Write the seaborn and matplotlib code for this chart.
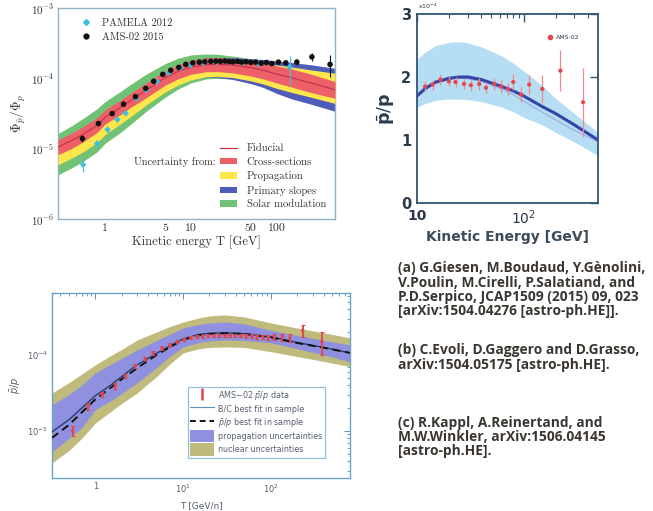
import numpy as np
import pandas as pd
import matplotlib
matplotlib.use("Agg")
import matplotlib.pyplot as plt
import seaborn as sns
from matplotlib.lines import Line2D
from matplotlib.patches import Patch
from matplotlib.ticker import FixedLocator, NullFormatter, NullLocator

# ---------------- Panel (a) data ----------------
TA = [0.28, 0.4, 0.55, 0.8, 1.0, 1.5, 2.0, 3.0, 5.0, 7.0, 10, 15, 20, 30, 50, 70, 100, 150, 250, 480]
fid = [1.05e-5, 1.3e-5, 1.6e-5, 2.15e-5, 2.8e-5, 3.85e-5, 4.9e-5, 6.8e-5, 1.02e-4, 1.25e-4, 1.45e-4,
       1.56e-4, 1.58e-4, 1.55e-4, 1.42e-4, 1.3e-4, 1.15e-4, 1.02e-4, 8.6e-5, 6.9e-5]
red_lo = [8.2e-6, 1.0e-5, 1.25e-5, 1.7e-5, 2.25e-5, 3.05e-5, 3.9e-5, 5.3e-5, 8.0e-5, 9.8e-5, 1.14e-4,
          1.24e-4, 1.25e-4, 1.2e-4, 1.08e-4, 9.8e-5, 8.6e-5, 7.5e-5, 6.3e-5, 5.2e-5]
red_hi = [1.34e-5, 1.65e-5, 2.05e-5, 2.75e-5, 3.6e-5, 4.9e-5, 6.2e-5, 8.6e-5, 1.28e-4, 1.55e-4, 1.8e-4,
          1.94e-4, 1.96e-4, 1.92e-4, 1.78e-4, 1.66e-4, 1.5e-4, 1.36e-4, 1.15e-4, 9.0e-5]
yel_lo = [5.9e-6, 7.3e-6, 9.0e-6, 1.22e-5, 1.6e-5, 2.25e-5, 2.9e-5, 4.2e-5, 6.4e-5, 8.0e-5, 9.5e-5,
          1.05e-4, 1.06e-4, 1.03e-4, 9.2e-5, 8.3e-5, 7.2e-5, 6.3e-5, 5.4e-5, 4.4e-5]
yel_hi = [1.0e-5, 1.25e-5, 1.55e-5, 2.1e-5, 2.75e-5, 3.8e-5, 4.9e-5, 6.9e-5, 1.02e-4, 1.25e-4, 1.45e-4,
          1.6e-4, 1.66e-4, 1.68e-4, 1.65e-4, 1.6e-4, 1.55e-4, 1.45e-4, 1.32e-4, 1.18e-4]
blu_lo = [6.2e-6, 7.7e-6, 9.5e-6, 1.28e-5, 1.68e-5, 2.35e-5, 3.05e-5, 4.4e-5, 6.7e-5, 8.3e-5, 9.6e-5,
          1.04e-4, 1.03e-4, 9.7e-5, 8.4e-5, 7.4e-5, 6.1e-5, 5.1e-5, 4.3e-5, 3.4e-5]
blu_hi = [1.3e-5, 1.6e-5, 2.0e-5, 2.7e-5, 3.5e-5, 4.75e-5, 6.0e-5, 8.4e-5, 1.25e-4, 1.52e-4, 1.78e-4,
          1.95e-4, 1.98e-4, 1.97e-4, 1.9e-4, 1.85e-4, 1.77e-4, 1.68e-4, 1.56e-4, 1.39e-4]
grn_lo = [4.25e-6, 5.3e-6, 6.6e-6, 9.0e-6, 1.2e-5, 1.7e-5, 2.25e-5, 3.4e-5, 5.4e-5, 7.0e-5, 8.6e-5,
          9.8e-5, 1.0e-4, 9.8e-5, 9.0e-5, 8.2e-5, 7.1e-5, 6.2e-5, 5.3e-5, 4.3e-5]
grn_hi = [1.64e-5, 2.1e-5, 2.7e-5, 3.7e-5, 4.7e-5, 6.5e-5, 8.3e-5, 1.15e-4, 1.62e-4, 1.92e-4, 2.15e-4,
          2.22e-4, 2.2e-4, 2.08e-4, 1.9e-4, 1.78e-4, 1.65e-4, 1.5e-4, 1.35e-4, 1.16e-4]

ams_a_T = [0.54, 0.83, 1.2, 1.63, 2.25, 2.96, 3.66, 4.68, 5.8, 7.2, 8.7, 10.5, 12.5, 14.5, 17, 19.5, 22,
           25, 28, 31, 35, 39, 44, 50, 57, 66, 76, 88, 105, 128, 172, 258, 420]
ams_a_y = [1.39e-5, 2.28e-5, 3.16e-5, 4.3e-5, 5.5e-5, 7.2e-5, 9.1e-5, 1.14e-4, 1.3e-4, 1.43e-4, 1.58e-4,
           1.66e-4, 1.7e-4, 1.72e-4, 1.74e-4, 1.75e-4, 1.74e-4, 1.76e-4, 1.73e-4, 1.72e-4, 1.74e-4,
           1.7e-4, 1.72e-4, 1.68e-4, 1.7e-4, 1.64e-4, 1.68e-4, 1.62e-4, 1.7e-4, 1.66e-4, 1.7e-4,
           2.02e-4, 1.58e-4]
ams_a_err = [1.5e-6, 1.5e-6, 1.5e-6, 2e-6, 2e-6, 3e-6, 3e-6, 4e-6, 4e-6, 4e-6, 4e-6, 4e-6, 4e-6, 4e-6,
             4e-6, 4e-6, 4e-6, 4e-6, 4e-6, 4e-6, 5e-6, 5e-6, 5e-6, 5e-6, 6e-6, 6e-6, 7e-6, 8e-6,
             1.0e-5, 1.2e-5, 1.6e-5, 2.5e-5, 5.5e-5]
pam_T = [0.55, 0.8, 1.06, 1.38, 1.72, 2.3, 3.0, 4.0, 5.5, 7.5, 10, 14, 20, 28, 40, 62, 142]
pam_y = [5.9e-6, 1.18e-5, 1.87e-5, 2.6e-5, 3.2e-5, 5.2e-5, 6.8e-5, 9.0e-5, 1.2e-4, 1.4e-4, 1.55e-4,
         1.65e-4, 1.7e-4, 1.72e-4, 1.68e-4, 1.62e-4, 1.45e-4]
pam_err = [1.2e-6, 1.5e-6, 1.8e-6, 2e-6, 2.5e-6, 3e-6, 4e-6, 5e-6, 6e-6, 7e-6, 8e-6, 8e-6, 9e-6, 1e-5,
           1.2e-5, 1.8e-5, 6.5e-5]

# ---------------- Panel (b) data ----------------
TB = [10, 12, 15, 20, 25, 30, 40, 60, 80, 100, 150, 200, 300, 500]
b_line = [1.70, 1.82, 1.92, 1.98, 2.0, 2.0, 1.96, 1.86, 1.78, 1.70, 1.53, 1.42, 1.24, 1.0]
b_thin = [1.68, 1.80, 1.90, 1.96, 1.98, 1.97, 1.93, 1.82, 1.72, 1.62, 1.44, 1.32, 1.15, 0.97]
b_hi = [2.28, 2.40, 2.50, 2.55, 2.56, 2.54, 2.48, 2.35, 2.22, 2.10, 1.86, 1.66, 1.42, 1.12]
b_lo = [1.52, 1.58, 1.63, 1.65, 1.65, 1.64, 1.61, 1.53, 1.45, 1.36, 1.24, 1.12, 0.97, 0.75]
ams_b_T = [11.9, 14.0, 16.6, 19.9, 23.0, 27.6, 32, 38.4, 44.4, 53.3, 61.7, 71.5, 80, 95, 113, 150, 222, 362]
ams_b_y = [1.85, 1.88, 1.96, 1.93, 1.92, 1.89, 1.87, 1.89, 1.83, 1.89, 1.85, 1.81, 1.92, 1.72, 1.88,
           1.81, 2.10, 1.60]
ams_b_err = [0.08, 0.08, 0.08, 0.08, 0.08, 0.08, 0.09, 0.09, 0.09, 0.1, 0.1, 0.1, 0.12, 0.12, 0.15,
             0.22, 0.33, 0.55]

# ---------------- Panel (c) data ----------------
TC = [0.32, 0.5, 0.7, 1.0, 1.5, 2, 3, 5, 7, 10, 15, 20, 30, 50, 100, 200, 400, 800]
nuc_hi = [3.16e-5, 4.3e-5, 5.6e-5, 7.4e-5, 9.8e-5, 1.18e-4, 1.57e-4, 2.0e-4, 2.35e-4, 2.7e-4, 3.05e-4,
          3.25e-4, 3.35e-4, 3.15e-4, 2.63e-4, 2.25e-4, 1.95e-4, 1.67e-4]
nuc_lo = [3.8e-6, 5.5e-6, 8.0e-6, 1.27e-5, 1.8e-5, 2.3e-5, 3.16e-5, 5.2e-5, 7.5e-5, 1.06e-4, 1.2e-4,
          1.25e-4, 1.27e-4, 1.25e-4, 1.1e-4, 9.5e-5, 8.2e-5, 7.0e-5]
prp_hi = [2.2e-5, 3.0e-5, 4.0e-5, 5.8e-5, 7.5e-5, 9.0e-5, 1.16e-4, 1.55e-4, 1.85e-4, 2.27e-4, 2.5e-4,
          2.62e-4, 2.7e-4, 2.55e-4, 2.1e-4, 1.8e-4, 1.55e-4, 1.35e-4]
prp_lo = [5.3e-6, 8e-6, 1.1e-5, 1.9e-5, 2.5e-5, 3.1e-5, 4.3e-5, 6.8e-5, 9.5e-5, 1.27e-4, 1.45e-4,
          1.52e-4, 1.57e-4, 1.55e-4, 1.44e-4, 1.2e-4, 1.0e-4, 8.1e-5]
bc_fit = [9.7e-6, 1.4e-5, 2.0e-5, 2.9e-5, 4.0e-5, 5.2e-5, 7.4e-5, 1.05e-4, 1.3e-4, 1.62e-4, 1.85e-4,
          1.92e-4, 1.95e-4, 1.9e-4, 1.72e-4, 1.45e-4, 1.25e-4, 1.06e-4]
pp_fit = [8.1e-6, 1.2e-5, 1.75e-5, 2.6e-5, 3.7e-5, 4.8e-5, 6.7e-5, 1.0e-4, 1.25e-4, 1.58e-4, 1.8e-4,
          1.88e-4, 1.92e-4, 1.88e-4, 1.7e-4, 1.43e-4, 1.24e-4, 1.06e-4]
ams_c_T = [0.55, 0.83, 1.2, 1.69, 2.2, 2.85, 3.7, 4.56, 5.76, 7.1, 8.6, 10.3, 12.2, 14.3, 16.7, 19.4,
           22.5, 26, 30, 34.5, 39.5, 45.5, 52.5, 60.5, 70, 81, 94, 110, 135, 165, 231, 380]
ams_c_y = [1.0e-5, 2.1e-5, 3.0e-5, 3.9e-5, 5.3e-5, 7.2e-5, 9.0e-5, 1.06e-4, 1.23e-4, 1.35e-4, 1.5e-4,
           1.6e-4, 1.68e-4, 1.72e-4, 1.76e-4, 1.78e-4, 1.8e-4, 1.8e-4, 1.8e-4, 1.79e-4, 1.8e-4,
           1.78e-4, 1.77e-4, 1.76e-4, 1.74e-4, 1.72e-4, 1.7e-4, 1.72e-4, 1.7e-4, 1.68e-4, 2.1e-4, 1.5e-4]
ams_c_err = [1.5e-6, 2e-6, 2.5e-6, 3e-6, 3.5e-6, 4e-6, 5e-6, 6e-6, 7e-6, 8e-6, 8e-6, 8e-6, 8e-6, 8e-6,
             8e-6, 8e-6, 8e-6, 8e-6, 8e-6, 8e-6, 9e-6, 9e-6, 1e-5, 1e-5, 1.1e-5, 1.2e-5, 1.3e-5,
             1.5e-5, 1.8e-5, 2.2e-5, 3.8e-5, 5.2e-5]

ref_lines = [
    "(a) G.Giesen, M.Boudaud, Y.Gènolini,",
    "V.Poulin, M.Cirelli, P.Salatiand, and",
    "P.D.Serpico, JCAP1509 (2015) 09, 023",
    "[arXiv:1504.04276 [astro-ph.HE]].",
    "(b) C.Evoli, D.Gaggero and D.Grasso,",
    "arXiv:1504.05175 [astro-ph.HE].",
    "(c) R.Kappl, A.Reinertand, and",
    "M.W.Winkler, arXiv:1506.04145",
    "[astro-ph.HE].",
]

# ---------------- Style ----------------
sns.set_theme(style="white")
plt.rcParams['font.family'] = ['DejaVu Sans']
plt.rcParams['mathtext.fontset'] = 'cm'
plt.rcParams['axes.unicode_minus'] = False

fig = plt.figure(figsize=(6.53, 5.11), dpi=100)
W, H = 653.0, 511.0


def box(x0, y0, x1, y1):
    return [x0 / W, 1 - y1 / H, (x1 - x0) / W, (y1 - y0) / H]


SERIF = 'cmr10'

# ================= Panel (a) =================
axA = fig.add_axes(box(58, 8, 335, 219))
axA.set_xscale('log')
axA.set_yscale('log')
cG, cB, cY, cR = '#72c276', '#4f5cb8', '#fde64a', '#ee6068'
axA.fill_between(TA, grn_lo, grn_hi, color=cG, lw=0, zorder=1)
axA.fill_between(TA, blu_lo, blu_hi, color=cB, lw=0, zorder=2)
axA.fill_between(TA, yel_lo, yel_hi, color=cY, lw=0, zorder=3)
axA.fill_between(TA, red_lo, red_hi, color=cR, lw=0, zorder=4)
sns.lineplot(x=TA, y=fid, ax=axA, color='#c0304a', lw=0.8, zorder=5)
axA.errorbar(pam_T, pam_y, yerr=pam_err, fmt='none', ecolor='#3cc0dc', elinewidth=0.8, zorder=6)
sns.scatterplot(x=pam_T, y=pam_y, ax=axA, color='#3cc0dc', s=11, marker='D', edgecolor='none', zorder=7)
axA.errorbar(ams_a_T, ams_a_y, yerr=ams_a_err, fmt='none', ecolor='#111111', elinewidth=0.8, zorder=8)
sns.scatterplot(x=ams_a_T, y=ams_a_y, ax=axA, color='#111111', s=16, edgecolor='none', zorder=9)
axA.set_xlim(0.28, 480)
axA.set_ylim(1e-6, 1e-3)
axA.xaxis.set_major_locator(FixedLocator([1, 5, 10, 50, 100]))
axA.set_xticklabels(['1', '5', '10', '50', '100'], fontfamily=SERIF, fontsize=8.5, color='#333333')
axA.xaxis.set_minor_locator(NullLocator())
axA.yaxis.set_major_locator(FixedLocator([1e-6, 1e-5, 1e-4, 1e-3]))
axA.set_yticklabels([r'$10^{-6}$', r'$10^{-5}$', r'$10^{-4}$', r'$10^{-3}$'], fontsize=8, color='#333333')
axA.yaxis.set_minor_locator(NullLocator())
axA.tick_params(axis='both', which='major', length=2, width=0.6, direction='in', pad=3,
                colors='#9ab8cc', labelcolor='#333333')
for s in axA.spines.values():
    s.set_color('#8fb3c9')
    s.set_linewidth(1.0)
axA.set_xlabel('Kinetic energy T [GeV]', fontfamily=SERIF, fontsize=9, color='#333333', labelpad=2)
axA.set_ylabel(r'$\Phi_{\bar p}/\Phi_p$', fontsize=9.5, color='#333333', labelpad=2)

h_top = [Line2D([], [], color='#3cc0dc', marker='D', ms=3, lw=0.8, ls='none'),
         Line2D([], [], color='#111111', marker='o', ms=3.5, ls='none')]
legA1 = axA.legend(h_top, ['PAMELA 2012', 'AMS-02 2015'], loc='upper left', frameon=False,
                   prop={'family': SERIF, 'size': 7.5}, handlelength=1.0, handletextpad=1.1,
                   borderaxespad=0.3, labelspacing=0.4, bbox_to_anchor=(0.055, 0.985))
for t in legA1.get_texts():
    t.set_color('#333333')
axA.add_artist(legA1)
h_bot = [Line2D([], [], color='#c0304a', lw=0.9),
         Patch(color=cR, lw=0), Patch(color=cY, lw=0), Patch(color=cB, lw=0), Patch(color=cG, lw=0)]
legA2 = axA.legend(h_bot, ['Fiducial', 'Cross-sections', 'Propagation', 'Primary slopes', 'Solar modulation'],
                   loc='lower right', frameon=False, prop={'family': SERIF, 'size': 7.7},
                   handlelength=1.6, handleheight=0.55, handletextpad=0.9, labelspacing=0.4,
                   borderaxespad=0.3, bbox_to_anchor=(0.995, 0.01))
for t in legA2.get_texts():
    t.set_color('#333333')
fig.text(216 / W, 1 - 162 / H, 'Uncertainty from:', fontfamily=SERIF, fontsize=7.5, color='#333333',
         ha='right', va='center')

# ================= Panel (b) =================
axB = fig.add_axes(box(417, 14, 598, 203))
axB.set_xscale('log')
axB.fill_between(TB, b_lo, b_hi, color='#b5def4', lw=0, zorder=1)
sns.lineplot(x=TB, y=b_thin, ax=axB, color='#9aa5dc', lw=0.7, zorder=2)
sns.lineplot(x=TB, y=b_line, ax=axB, color='#3444a8', lw=2.2, zorder=3)
axB.errorbar(ams_b_T, ams_b_y, yerr=ams_b_err, fmt='none', ecolor='#f08a8e', elinewidth=0.9, zorder=4)
sns.scatterplot(x=ams_b_T, y=ams_b_y, ax=axB, color='#e8454a', s=9, edgecolor='none', zorder=5)
axB.set_xlim(10, 500)
axB.set_ylim(0, 3)
axB.xaxis.set_major_locator(FixedLocator([10, 100]))
axB.set_xticklabels(['10', r'$10^2$'], fontsize=10, fontweight='bold', color='#2a3a48')
for lbl in axB.get_xticklabels():
    lbl.set_math_fontfamily('dejavusans')
axB.xaxis.set_minor_locator(FixedLocator([20, 30, 40, 50, 60, 70, 80, 90, 200, 300, 400]))
axB.xaxis.set_minor_formatter(NullFormatter())
axB.yaxis.set_major_locator(FixedLocator([0, 1, 2, 3]))
axB.set_yticklabels(['0', '1', '2', '3'], fontsize=10.5, fontweight='bold', color='#2a3a48')
axB.tick_params(axis='both', which='major', length=6, width=1.0, direction='in', top=True, right=True,
                colors='#2f5570', labelcolor='#2a3a48', pad=4)
axB.tick_params(axis='both', which='minor', length=3, width=0.8, direction='in', top=True, right=True,
                colors='#2f5570')
for s in axB.spines.values():
    s.set_color('#2f5570')
    s.set_linewidth(1.3)
axB.set_xlabel('Kinetic Energy [GeV]', fontsize=10, fontweight='bold', color='#3a4c5c', labelpad=2)
axB.set_ylabel(r'$\bar{\mathbf{p}}/\mathbf{p}$', fontsize=12.5, color='#2a3a48', labelpad=3,
               math_fontfamily='dejavusans')
fig.text(418 / W, 1 - 6 / H, r'x10$^{-4}$', fontsize=4.5, color='#2a3a48', ha='left', va='center',
         math_fontfamily='dejavusans')
hB = [Line2D([], [], color='#e8454a', marker='o', ms=3, ls='none')]
legB = axB.legend(hB, ['AMS-02'], loc='upper right', frameon=False, prop={'size': 4.5},
                  handlelength=0.8, handletextpad=0.5, bbox_to_anchor=(0.93, 0.92))
for t in legB.get_texts():
    t.set_color('#2a3a48')

# ================= Panel (c) =================
axC = fig.add_axes(box(52, 293, 350, 478))
axC.set_xscale('log')
axC.set_yscale('log')
cNuc, cPrp = '#c0bb7c', '#8f90df'
axC.fill_between(TC, nuc_lo, nuc_hi, color=cNuc, lw=0, zorder=1)
axC.fill_between(TC, prp_lo, prp_hi, color=cPrp, lw=0, zorder=2)
sns.lineplot(x=TC, y=bc_fit, ax=axC, color='#223f6e', lw=1.0, zorder=3)
sns.lineplot(x=TC, y=pp_fit, ax=axC, color='#111111', lw=1.4, zorder=4)
axC.lines[-1].set_dashes([4, 2.5])
axC.errorbar(ams_c_T, ams_c_y, yerr=ams_c_err, fmt='none', ecolor='#e04850', elinewidth=1.4,
             capsize=1.3, capthick=0.8, zorder=5)
sns.scatterplot(x=ams_c_T, y=ams_c_y, ax=axC, color='#e04850', s=6, edgecolor='none', zorder=6)
axC.set_xlim(0.32, 800)
axC.set_ylim(2.4e-6, 6.5e-4)
axC.xaxis.set_major_locator(FixedLocator([1, 10, 100]))
axC.set_xticklabels(['1', r'$10^1$', r'$10^2$'], fontsize=6, color='#556070')
axC.xaxis.set_minor_locator(FixedLocator([0.4, 0.5, 0.6, 0.7, 0.8, 0.9, 2, 3, 4, 5, 6, 7, 8, 9,
                                          20, 30, 40, 50, 60, 70, 80, 90, 200, 300, 400, 500, 600, 700]))
axC.xaxis.set_minor_formatter(NullFormatter())
axC.yaxis.set_major_locator(FixedLocator([1e-5, 1e-4]))
axC.set_yticklabels([r'$10^{-5}$', r'$10^{-4}$'], fontsize=6, color='#556070')
axC.yaxis.set_minor_locator(FixedLocator([3e-6, 4e-6, 5e-6, 6e-6, 7e-6, 8e-6, 9e-6, 2e-5, 3e-5, 4e-5,
                                          5e-5, 6e-5, 7e-5, 8e-5, 9e-5, 2e-4, 3e-4, 4e-4, 5e-4, 6e-4]))
axC.yaxis.set_minor_formatter(NullFormatter())
for lbl in axC.get_xticklabels() + axC.get_yticklabels():
    lbl.set_math_fontfamily('dejavusans')
axC.tick_params(axis='both', which='major', length=4, width=0.7, direction='in', top=True, right=True,
                colors='#5a8fb8', labelcolor='#556070', pad=3)
axC.tick_params(axis='both', which='minor', length=2, width=0.6, direction='in', top=True, right=True,
                colors='#5a8fb8')
for s in axC.spines.values():
    s.set_color('#6aa3c8')
    s.set_linewidth(1.0)
axC.set_xlabel('T [GeV/n]', fontsize=6.5, color='#556070', labelpad=5)
axC.set_ylabel(r'$\bar{p}/p$', fontsize=7, color='#556070', labelpad=3, math_fontfamily='dejavusans')
hC = [Line2D([], [], color='#e04850', marker='|', ms=9, mew=1.8, ls='none'),
      Line2D([], [], color='#5a8fb8', lw=0.8),
      Line2D([], [], color='#111111', lw=1.4, dashes=[3, 2]),
      Patch(color=cPrp, lw=0), Patch(color=cNuc, lw=0)]
legC = axC.legend(hC, [r'AMS$-$02 $\bar{p}/p$ data', 'B/C best fit in sample', r'$\bar{p}/p$ best fit in sample',
                       'propagation uncertainties', 'nuclear uncertainties'],
                  loc='lower right', frameon=True, fancybox=False, prop={'size': 5.8},
                  handlelength=2.9, handleheight=2.0, handletextpad=0.6, labelspacing=0.1,
                  borderpad=0.25, borderaxespad=0.0, bbox_to_anchor=(0.915, 0.11))
legC.get_frame().set_edgecolor('#7aaed0')
legC.get_frame().set_linewidth(0.9)
for t in legC.get_texts():
    t.set_color('#556070')
    t.set_math_fontfamily('dejavusans')

# ================= References text =================
ys = [268, 283, 297, 311, 350, 365, 423, 437, 451]
for txt, yy in zip(ref_lines, ys):
    fig.text(398 / W, 1 - yy / H, txt, fontsize=9.9, fontfamily=['Open Sans', 'DejaVu Sans'],
             fontweight='bold', color='#3a3530', ha='left', va='center')

fig.savefig('out.png', dpi=100)
